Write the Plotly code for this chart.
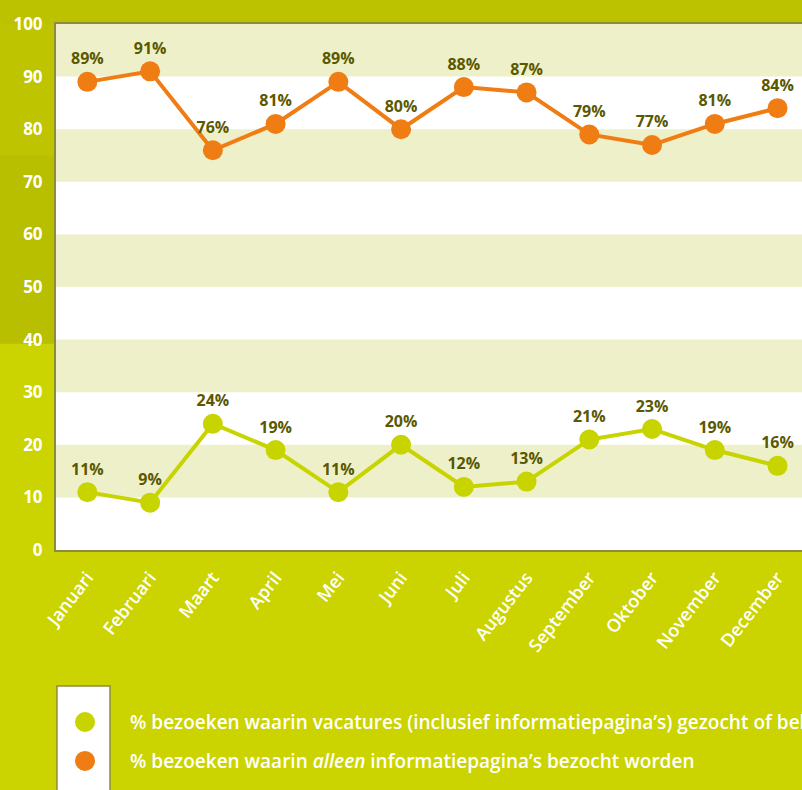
import plotly.graph_objects as go

# %% DATA
months = ['Januari', 'Februari', 'Maart', 'April', 'Mei', 'Juni', 'Juli',
          'Augustus', 'September', 'Oktober', 'November', 'December']
alleen_info = [89, 91, 76, 81, 89, 80, 88, 87, 79, 77, 81, 84]
vacatures = [11, 9, 24, 19, 11, 20, 12, 13, 21, 23, 19, 16]
y_ticks = list(range(0, 101, 10))

# %% COLOURS
BG = '#cbd400'
PHOTO = '#bcc200'
BAND = '#eef0c9'
ORANGE = '#f07c14'
LIME = '#c8d400'
LABEL = '#5a5800'
FRAME = '#8e8c3a'
FONT = 'Open Sans'

fig = go.Figure()

# two series, percentages above each point
for vals, col in [(vacatures, LIME), (alleen_info, ORANGE)]:
    fig.add_trace(go.Scatter(
        x = months, y = vals, mode = 'lines+markers+text',
        line = dict(color = col, width = 4),
        marker = dict(color = col, size = 20),
        text = [f'{v}%' for v in vals], textposition = 'top center',
        textfont = dict(family = FONT, size = 16, color = LABEL, weight = 'bold'),
        cliponaxis = False, showlegend = False))

# alternating bands in the plot area
shapes = []
for lo in range(10, 100, 20):
    shapes.append(dict(type = 'rect', xref = 'paper', yref = 'y', x0 = 0, x1 = 1,
                       y0 = lo, y1 = lo + 10, fillcolor = BAND, line_width = 0, layer = 'below'))

# darker photo-ish strip top and left
shapes.append(dict(type = 'rect', xref = 'paper', yref = 'paper', x0 = -1, x1 = 2, y0 = 1, y1 = 2,
                   fillcolor = PHOTO, line_width = 0, layer = 'below'))
shapes.append(dict(type = 'rect', xref = 'paper', yref = 'y', x0 = -1, x1 = 0, y0 = 39.2, y1 = 100,
                   fillcolor = '#b8be00', line_width = 0, layer = 'below'))
shapes.append(dict(type = 'rect', xref = 'paper', yref = 'y', x0 = -1, x1 = 0, y0 = 75, y1 = 100,
                   fillcolor = '#bec400', line_width = 0, layer = 'below'))

# legend box and markers
shapes.append(dict(type = 'rect', xref = 'paper', yref = 'paper', x0 = 0.0013, x1 = 0.0724,
                   y0 = -0.55, y1 = -0.2586, fillcolor = 'white', line = dict(color = FRAME, width = 1.5)))
for yc, col in [(-0.327, LIME), (-0.401, ORANGE)]:
    shapes.append(dict(type = 'circle', xref = 'paper', yref = 'paper', xsizemode = 'pixel', ysizemode = 'pixel',
                       xanchor = 0.0389, yanchor = yc, x0 = -10, x1 = 10, y0 = -10, y1 = 10,
                       fillcolor = col, line_width = 0))

legend_font = dict(family = FONT, size = 19, color = 'white', weight = 600)
annotations = [
    dict(xref = 'paper', yref = 'paper', x = 0.0965, y = -0.327, xanchor = 'left', yanchor = 'middle',
         text = '% bezoeken waarin vacatures (inclusief informatiepagina’s) gezocht of bekeken worden',
         showarrow = False, font = legend_font),
    dict(xref = 'paper', yref = 'paper', x = 0.0965, y = -0.401, xanchor = 'left', yanchor = 'middle',
         text = '% bezoeken waarin <i>alleen</i> informatiepagina’s bezocht worden',
         showarrow = False, font = legend_font),
]

fig.update_xaxes(range = [-0.5, 11.39], showgrid = False, showline = True, mirror = True,
                 linecolor = FRAME, linewidth = 2, tickangle = -52, ticks = '', ticklabelstandoff = 8,
                 tickfont = dict(family = FONT, size = 18, color = 'white', weight = 600))
fig.update_yaxes(range = [0, 100], tickvals = y_ticks, showgrid = False, zeroline = False,
                 showline = True, linecolor = FRAME, linewidth = 2, ticks = '', ticklabelstandoff = 8,
                 tickfont = dict(family = FONT, size = 17, color = 'white', weight = 'bold'))

fig.update_layout(width = 802, height = 790, autosize = False,
                  margin = dict(l = 56, r = 0, t = 24, b = 240),
                  paper_bgcolor = BG, plot_bgcolor = 'white',
                  shapes = shapes, annotations = annotations)

# remove default page margin so the chart fills the window, no modebar
fig.write_html("out.html", config = {'displayModeBar': False},
               post_script = "document.body.style.margin = '0';")
